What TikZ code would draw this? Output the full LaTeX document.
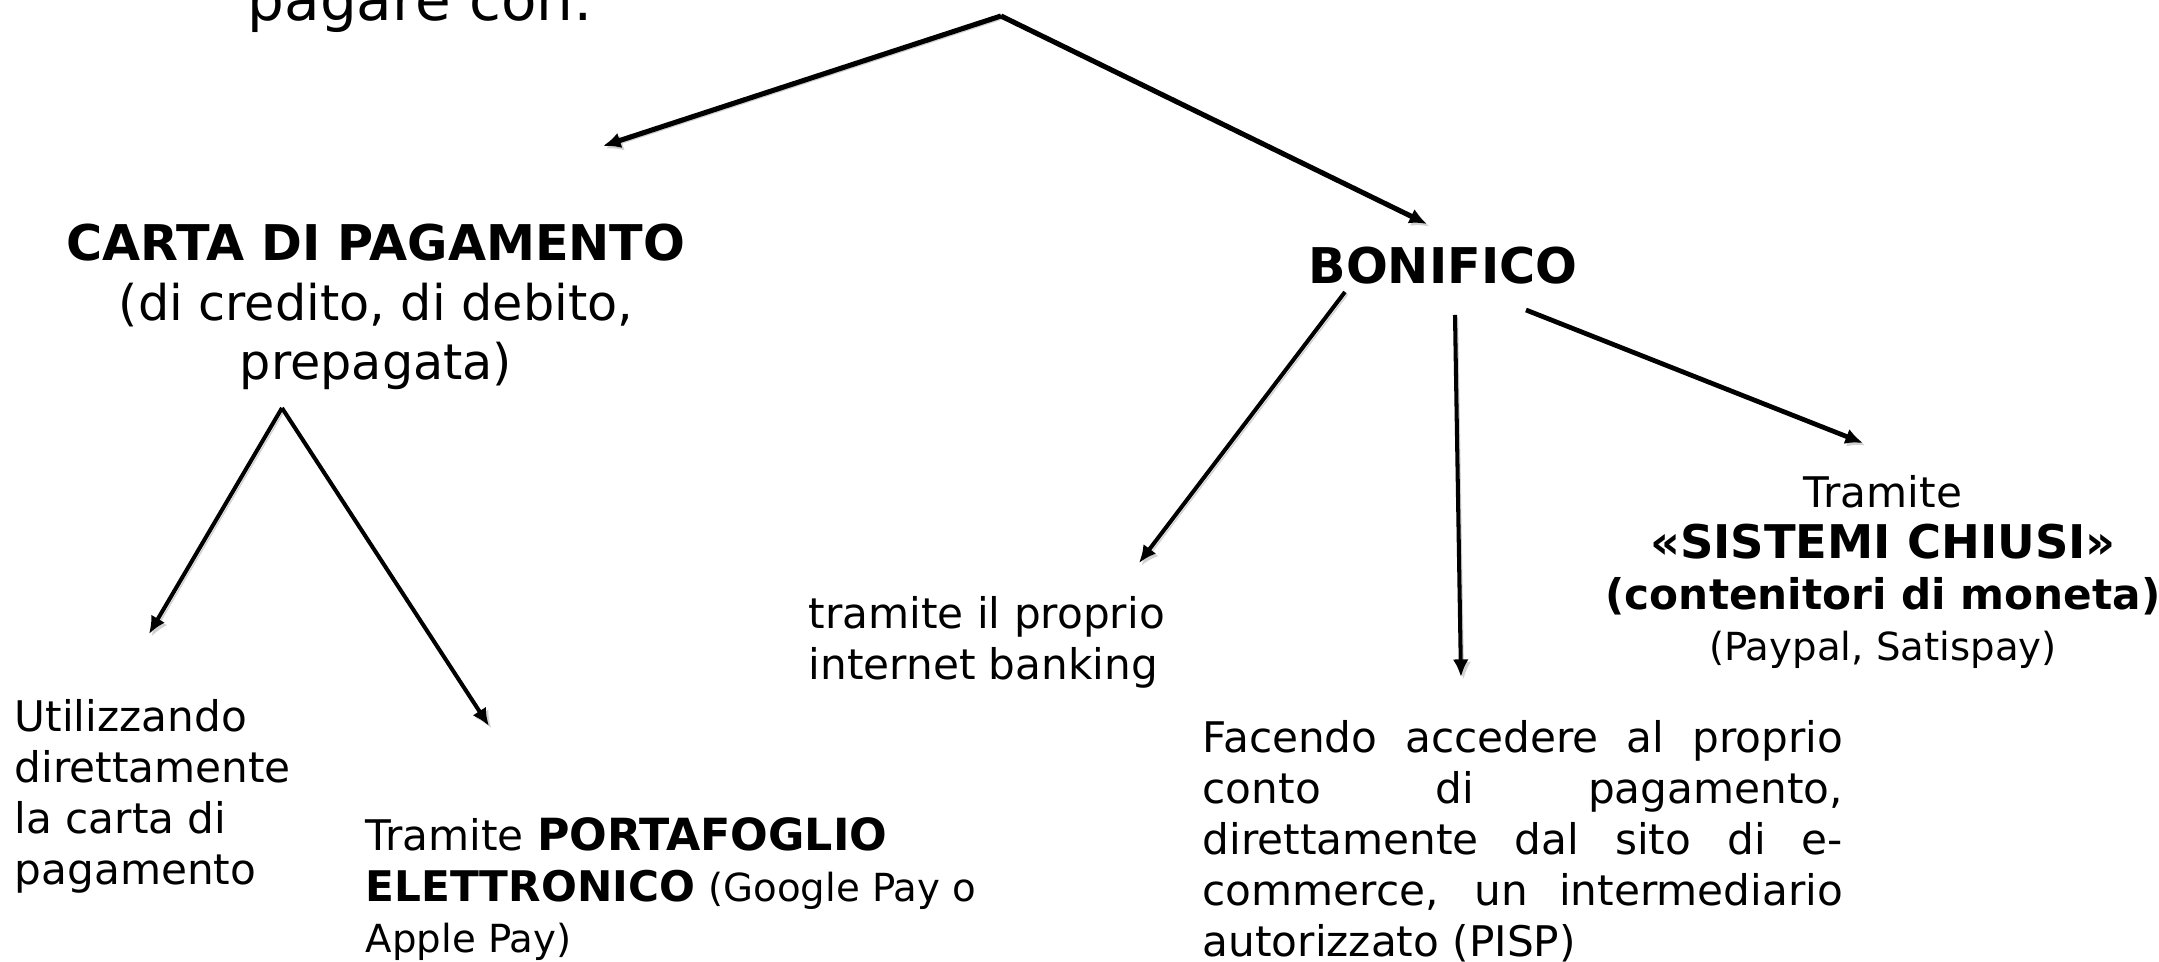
\documentclass[tikz,border=0pt]{standalone}
\usepackage{fontspec}
\setmainfont{DejaVu Sans}
\usetikzlibrary{arrows.meta}

\tikzset{
  arr/.style={line width=1.15pt,-{Latex[length=5pt,width=4.5pt]},
    preaction={draw,black!18,transform canvas={shift={(0.7pt,-0.7pt)}}}},
  bigarr/.style={arr,line width=1.45pt},
  txt/.style={inner sep=0pt,font=\fontsize{12}{14.5}\selectfont},
  head/.style={inner sep=0pt,font=\fontsize{14}{17}\selectfont,align=center},
}
\newcommand{\paren}[1]{{\fontsize{11}{14.5}\selectfont #1}}

\begin{document}
\begin{tikzpicture}[x=0.01cm,y=-0.01cm]
\useasboundingbox (0,0) rectangle (2159,962);

%\node [draw] (t) at (0,0){Si pu\`o};
\node [anchor=base west,inner sep=0pt,font=\fontsize{16.5}{19}\selectfont] (title) at (247,21){pagare con:};

\node [head,anchor=north] (carta) at (376,223){\textbf{CARTA DI PAGAMENTO}\\(di credito, di debito,\\prepagata)};
\node [head,anchor=base] (bon) at (1443,284){\textbf{BONIFICO}};

\node [txt,anchor=north west,align=left] (dir) at (14,699){Utilizzando\\direttamente\\la carta di\\pagamento};
\node [txt,anchor=north west,align=left] (wal) at (365,817){Tramite {\fontsize{12.6}{14.5}\selectfont\bfseries PORTAFOGLIO}\\\textbf{ELETTRONICO} \paren{(Google Pay o}\\\paren{Apple Pay)}};

\node [txt,anchor=north west,align=left] (ib) at (808,596){tramite il proprio\\internet banking};
\node [txt,anchor=north west,text width=6.4cm,align=justify] (pisp) at (1202,720){Facendo accedere al proprio\linebreak conto di pagamento,\linebreak direttamente dal sito di e-\linebreak commerce, un intermediario\linebreak autorizzato (PISP)};
\node [txt,anchor=north,align=center] (sc) at (1883,475){Tramite\\{\fontsize{13.2}{14.5}\selectfont\bfseries «SISTEMI CHIUSI»}\\\textbf{(contenitori di moneta)}\\\paren{(Paypal, Satispay)}};

% arrow ends
\coordinate (top) at (1001,16);
\coordinate (cartain) at (603,146);
\coordinate (bonin) at (1427,224);
\coordinate (cartaout) at (282,408);
\coordinate (dirin) at (149,634);
\coordinate (walin) at (489,726);
\coordinate (bonl) at (1345,292);
\coordinate (bonm) at (1455,315);
\coordinate (bonr) at (1526,310);
\coordinate (ibin) at (1139,563);
\coordinate (pispin) at (1461,677);
\coordinate (scin) at (1863,443);

\draw[bigarr] (top) -- (cartain);
\draw[bigarr] (top) -- (bonin);

\draw[arr] (cartaout) -- (dirin);
\draw[arr] (cartaout) -- (walin);

\draw[arr] (bonl) -- (ibin);
\draw[arr] (bonm) -- (pispin);
\draw[arr,line width=1.35pt] (bonr) -- (scin);

\end{tikzpicture}
\end{document}
